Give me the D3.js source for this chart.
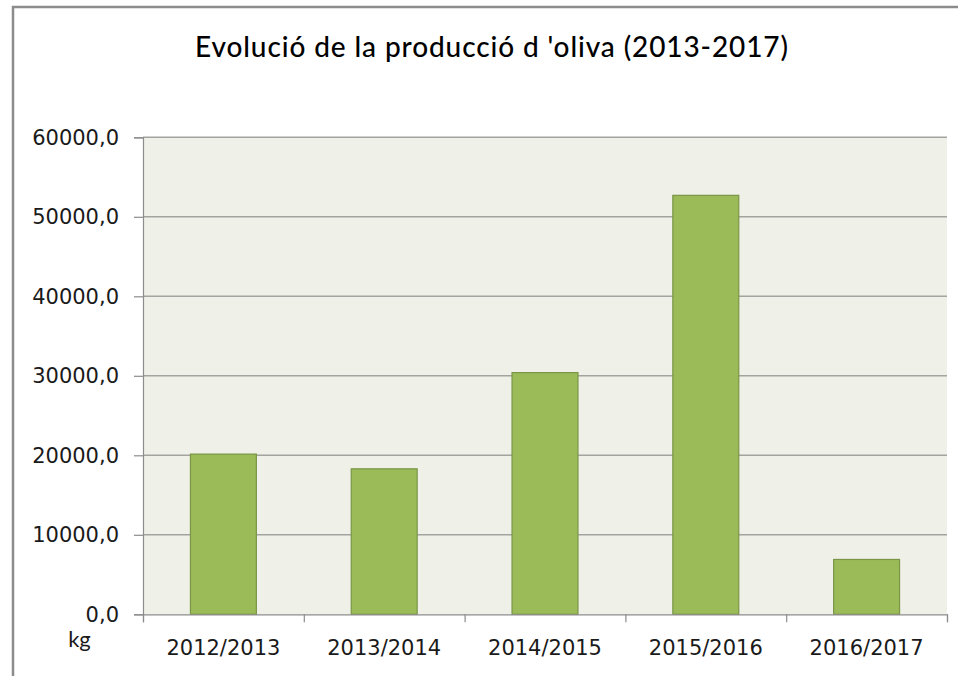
<!DOCTYPE html>
<html>
<head>
<meta charset="utf-8">
<script src="https://cdn.jsdelivr.net/npm/d3@7"></script>
<style>
  html, body { margin: 0; padding: 0; background: #ffffff; }
  svg { display: block; }
</style>
</head>
<body>
<svg id="chart" width="958" height="676"></svg>
<script>
const categories = ["2012/2013", "2013/2014", "2014/2015", "2015/2016", "2016/2017"];
const values = [20150, 18300, 30400, 52700, 6900];
const yTicks = [0, 10000, 20000, 30000, 40000, 50000, 60000];
const title = "Evolució de la producció d 'oliva (2013-2017)";
const unitLabel = "kg";

const svg = d3.select("#chart");
const W = 958, H = 676;
const m = { left: 143, right: 947, top: 137.3, bottom: 614.3 };

// outer frame (cropped on right/bottom)
svg.append("rect")
  .attr("x", 13).attr("y", 7)
  .attr("width", W + 20).attr("height", H + 20)
  .attr("fill", "#ffffff")
  .attr("stroke", "#8c8c8c").attr("stroke-width", 2.5);

const x = d3.scaleBand().domain(categories).range([m.left, m.right])
  .paddingInner(0.59).paddingOuter(0.295);
const xb = d3.scaleLinear().domain([0, categories.length]).range([m.left, m.right]);
const y = d3.scaleLinear().domain([0, 60000]).range([m.bottom, m.top]);

// plot background
svg.append("rect")
  .attr("x", m.left).attr("y", m.top)
  .attr("width", m.right - m.left).attr("height", m.bottom - m.top)
  .attr("fill", "#eff1e9");

// gridlines
svg.append("g").selectAll("line").data(yTicks.filter(d => d > 0)).join("line")
  .attr("x1", m.left).attr("x2", m.right)
  .attr("y1", d => y(d)).attr("y2", d => y(d))
  .attr("stroke", "#a3a4a0").attr("stroke-width", 1.5);

// bars
svg.append("g").selectAll("rect").data(values).join("rect")
  .attr("x", (d, i) => x(categories[i]))
  .attr("y", d => y(d))
  .attr("width", x.bandwidth())
  .attr("height", d => y(0) - y(d))
  .attr("fill", "#9bbb59")
  .attr("stroke", "#7a9546").attr("stroke-width", 1.2);

// y axis
const yAxis = svg.append("g").attr("transform", `translate(${m.left},0)`)
  .call(d3.axisLeft(y).tickValues(yTicks).tickSize(9).tickPadding(15)
    .tickFormat(d => d.toFixed(1).replace(".", ",")));
yAxis.select(".domain").attr("stroke", "#8c8c8c").attr("stroke-width", 1.2);
yAxis.selectAll(".tick line").attr("stroke", "#8c8c8c").attr("stroke-width", 1.2);
yAxis.selectAll(".tick text")
  .attr("font-family", "DejaVu Sans").attr("font-size", 21).attr("fill", "#1a1a1a");

// x axis boundary ticks
const xAxis = svg.append("g").attr("transform", `translate(0,${m.bottom})`)
  .call(d3.axisBottom(xb).tickValues(d3.range(categories.length + 1)).tickSize(8).tickFormat(""));
xAxis.select(".domain").attr("stroke", "#8c8c8c").attr("stroke-width", 1.2);
xAxis.selectAll(".tick line").attr("stroke", "#8c8c8c").attr("stroke-width", 1.2);

// x labels
const xLab = svg.append("g").attr("transform", `translate(0,${m.bottom})`)
  .call(d3.axisBottom(x).tickSize(0).tickPadding(26));
xLab.select(".domain").remove();
xLab.selectAll(".tick text")
  .attr("font-family", "DejaVu Sans").attr("font-size", 21).attr("fill", "#1a1a1a");

// unit label
svg.append("text")
  .attr("x", 79.5).attr("y", 647)
  .attr("text-anchor", "middle")
  .attr("font-family", "Lato").attr("font-size", 22).attr("fill", "#1a1a1a")
  .text(unitLabel);

// title
svg.append("text")
  .attr("x", 491.5).attr("y", 56.7)
  .attr("text-anchor", "middle")
  .attr("font-family", "Lato").attr("font-size", 28).attr("font-weight", 500)
  .attr("textLength", 593).attr("lengthAdjust", "spacing")
  .attr("fill", "#000")
  .text(title);
</script>
</body>
</html>
